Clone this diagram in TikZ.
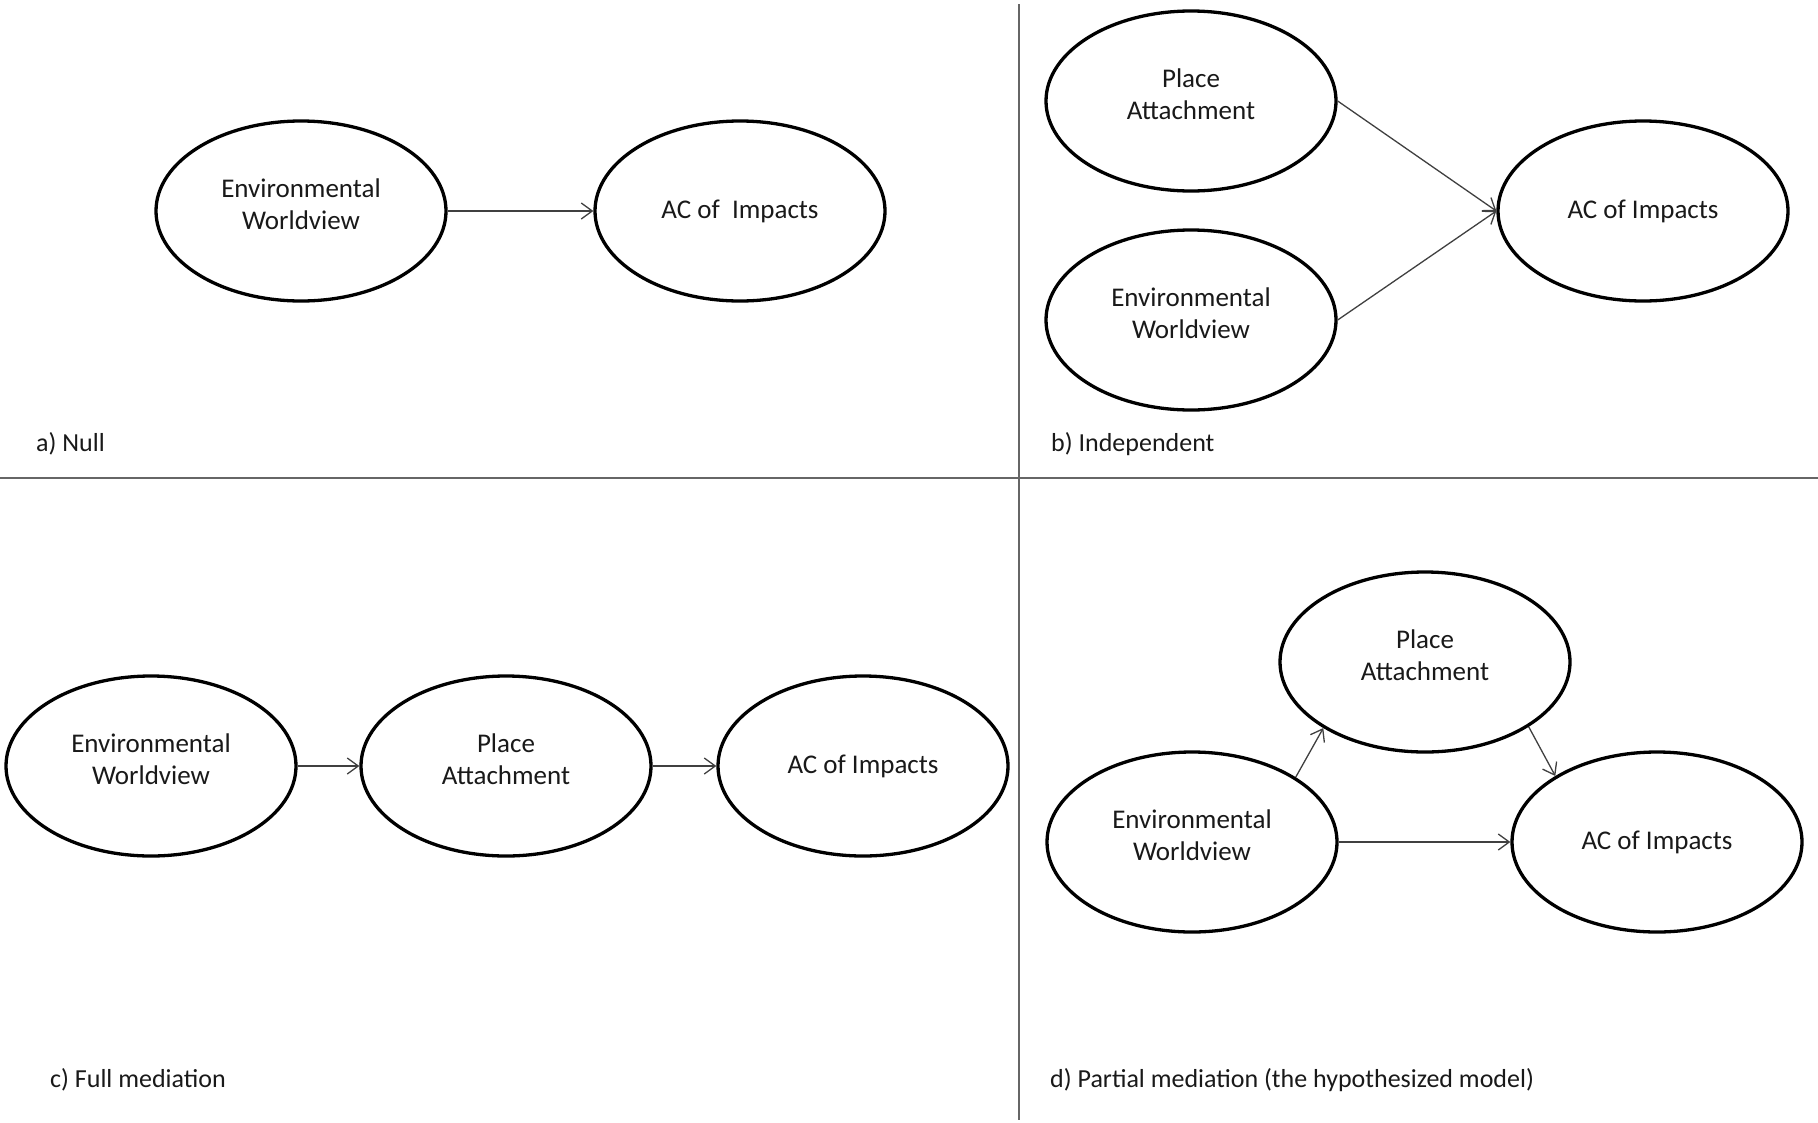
\documentclass[tikz,border=0pt]{standalone}
\usepackage{fontspec}
\setmainfont{Carlito}
\usetikzlibrary{shapes.geometric,arrows.meta}
\begin{document}
\begin{tikzpicture}[x=1pt,y=-1pt,
  latent/.style={ellipse, draw=black, line width=3.3pt, minimum width=290pt, minimum height=180pt, inner sep=0pt, align=center, font=\fontsize{27}{32}\selectfont, text=black!90},
  twoline/.style={text depth=13pt},
  oneline/.style={text depth=0pt, text height=14pt},
  path/.style={line width=1.3pt, draw=black!75, -{Straight Barb[length=11pt,width=16pt,line width=1.3pt]}},
  divider/.style={line width=1.6pt, draw=black!60},
  caption/.style={anchor=base west, inner sep=0pt, font=\fontsize{26}{30}\selectfont, text=black!90}]
\useasboundingbox (0,0) rectangle (1818,1122);
\fill[white] (0,0) rectangle (1818,1122);
% dividers
\coordinate (vt) at (1019,4);
\coordinate (vb) at (1019,1120);
\coordinate (hl) at (0,478);
\coordinate (hr) at (1818,478);
\draw[divider] (vt) -- (vb);
\draw[divider] (hl) -- (hr);
% a) Null
\node[latent,twoline] (aew) at (301,211) {Environmental\\Worldview};
\node[latent,oneline] (aac) at (740,211) {AC of \ Impacts};
\draw[path] (aew.east) -- (aac.west);
\node[caption] (acap) at (36,451) {a) Null};
% b) Independent
\node[latent,twoline] (bpa) at (1191,101) {Place\\Attachment};
\node[latent,twoline] (bew) at (1191,320) {Environmental\\Worldview};
\node[latent,oneline] (bac) at (1643,211) {AC of Impacts};
\draw[path] (bpa.east) -- (bac.west);
\draw[path] (bew.east) -- (bac.west);
\node[caption] (bcap) at (1051,451) {b) Independent};
% c) Full mediation
\node[latent,twoline] (cew) at (151,766) {Environmental\\Worldview};
\node[latent,twoline] (cpa) at (506,766) {Place\\Attachment};
\node[latent,oneline] (cac) at (863,766) {AC of Impacts};
\draw[path] (cew.east) -- (cpa.west);
\draw[path] (cpa.east) -- (cac.west);
\node[caption] (ccap) at (50,1087) {c) Full mediation};
% d) Partial mediation
\node[latent,twoline] (dpa) at (1425,662) {Place\\Attachment};
\node[latent,twoline] (dew) at (1192,842) {Environmental\\Worldview};
\node[latent,oneline] (dac) at (1657,842) {AC of Impacts};
\draw[path] (dew.32) -- (dpa.213);
\draw[path] (dpa.-32) -- (dac.147);
\draw[path] (dew.east) -- (dac.west);
\node[caption] (dcap) at (1050,1087) {d) Partial mediation (the hypothesized model)};
\end{tikzpicture}
\end{document}
